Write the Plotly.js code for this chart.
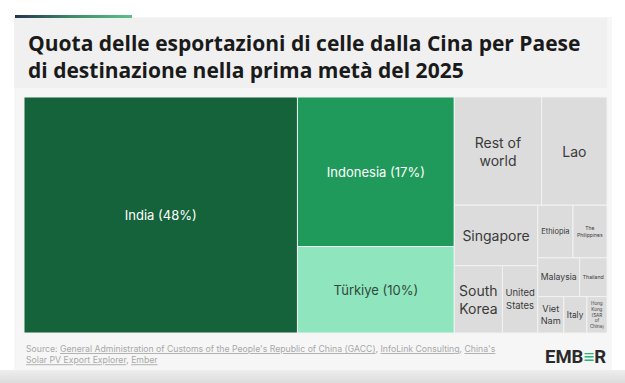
<!DOCTYPE html>
<html>
<head>
<meta charset="utf-8">
<script src="https://cdn.plot.ly/plotly-3.0.1.min.js"></script>
<style>
  html, body { margin: 0; padding: 0; background: #ffffff; }
  #wrap { position: relative; width: 625px; height: 383px; overflow: hidden; background: #ffffff; }
  #card { position: absolute; left: 14px; top: 17px; width: 598px; height: 353px; background: #f6f6f6; }
  #titlebox { position: absolute; left: 14px; top: 18px; width: 593px; height: 70px; background: #f0f0f0; }
  #accent { position: absolute; left: 15px; top: 15px; width: 117px; height: 3px;
            background: linear-gradient(to right, #27334f, #3f8c6a, #5cc08a); }
  #shadow { position: absolute; left: 0; top: 370px; width: 625px; height: 13px;
            background: linear-gradient(to bottom, #eeeeee, #dcdcdc); }
  #chart { position: absolute; left: 0; top: 0; width: 625px; height: 383px; }
</style>
</head>
<body>
<div id="wrap">
  <div id="card"></div>
  <div id="titlebox"></div>
  <div id="accent"></div>
  <div id="shadow"></div>
  <div id="chart"></div>
</div>
<script>
// Data (share of China's cell exports by destination, H1 2025, %)
const countries = ["India", "Indonesia", "Türkiye", "Rest of world", "Lao", "Singapore",
  "South Korea", "United States", "Ethiopia", "The Philippines", "Malaysia", "Thailand",
  "Viet Nam", "Italy", "Hong Kong (SAR of China)"];
const shares = [47.6, 17.3, 10.0, 6.97, 5.22, 3.72, 2.39, 1.75, 1.37, 1.32, 1.20, 0.78, 0.70, 0.62, 0.54];
const cellLabels = ["India (48%)", "Indonesia (17%)", "Türkiye (10%)", "Rest of<br>world", "Lao",
  "Singapore", "South<br>Korea", "United<br>States", "Ethiopia", "The<br>Philippines", "Malaysia",
  "Thailand", "Viet<br>Nam", "Italy", "Hong<br>Kong<br>(SAR<br>of<br>China)"];

const ROOT = "Totale";
const labels = [ROOT].concat(countries);
const parents = [""].concat(countries.map(() => ROOT));
const values = [0].concat(shares);
const texts = [""].concat(cellLabels);

const gray = "#dcdcdc";
const colors = ["rgba(0,0,0,0)", "#14633b", "#1f9a5a", "#8fe5bd"].concat(countries.slice(3).map(() => gray));
const txtColors = ["#333", "#ffffff", "#ffffff", "#2f4a3c"].concat(countries.slice(3).map(() => "#3a3a3a"));
const txtSizes = [10, 13, 13, 13, 14, 14, 14, 14, 10.5, 7.5, 5, 9.5, 6, 9.5, 9.5, 5];

const trace = {
  type: "treemap",
  labels: labels,
  parents: parents,
  values: values,
  text: texts,
  branchvalues: "remainder",
  sort: true,
  texttemplate: "%{text}",
  textposition: "middle center",
  textfont: { family: "Inter, 'Open Sans', sans-serif", size: txtSizes, color: txtColors },
  marker: {
    colors: colors,
    line: { width: 1, color: "#f2f2f2" },
    pad: { t: 0, l: 0, r: 0, b: 0 }
  },
  tiling: { packing: "binary", pad: 0 },
  pathbar: { visible: false },
  hoverinfo: "skip",
  root: { color: "rgba(0,0,0,0)" }
};

const layout = {
  width: 625, height: 383,
  margin: { l: 24, r: 18, t: 97, b: 50 },
  paper_bgcolor: "rgba(0,0,0,0)",
  plot_bgcolor: "rgba(0,0,0,0)",
  showlegend: false,
  title: {
    text: "<b>Quota delle esportazioni di celle dalla Cina per Paese<br>di destinazione nella prima metà del 2025</b>",
    x: 28 / 625, xanchor: "left", xref: "container",
    y: 1 - 51 / 383, yanchor: "top", yref: "container",
    font: { family: "'Open Sans', Roboto, sans-serif", size: 21, color: "#1a1a1a" }
  },
  annotations: [
    {
      xref: "paper", yref: "paper", x: 0, y: -0.04, xanchor: "left", yanchor: "top",
      align: "left", showarrow: false,
      text: "Source: <span style='text-decoration:underline'>General Administration of Customs of the People's Republic of China (GACC)</span>, <span style='text-decoration:underline'>InfoLink Consulting</span>, <span style='text-decoration:underline'>China's</span><br><span style='text-decoration:underline'>Solar PV Export Explorer</span>, <span style='text-decoration:underline'>Ember</span>",
      font: { family: "Inter, 'Open Sans', sans-serif", size: 8.7, color: "#a8a8a8" }
    },
    {
      xref: "paper", yref: "paper", x: 1.002, y: -0.045, xanchor: "right", yanchor: "top",
      showarrow: false,
      text: "<b>EMB<span style='color:#24b77a'>≡</span>R</b>",
      font: { family: "Roboto, 'Open Sans', sans-serif", size: 18.5, color: "#2a2a2a" }
    }
  ]
};

Plotly.newPlot("chart", [trace], layout, { displayModeBar: false, staticPlot: true });
</script>
</body>
</html>
